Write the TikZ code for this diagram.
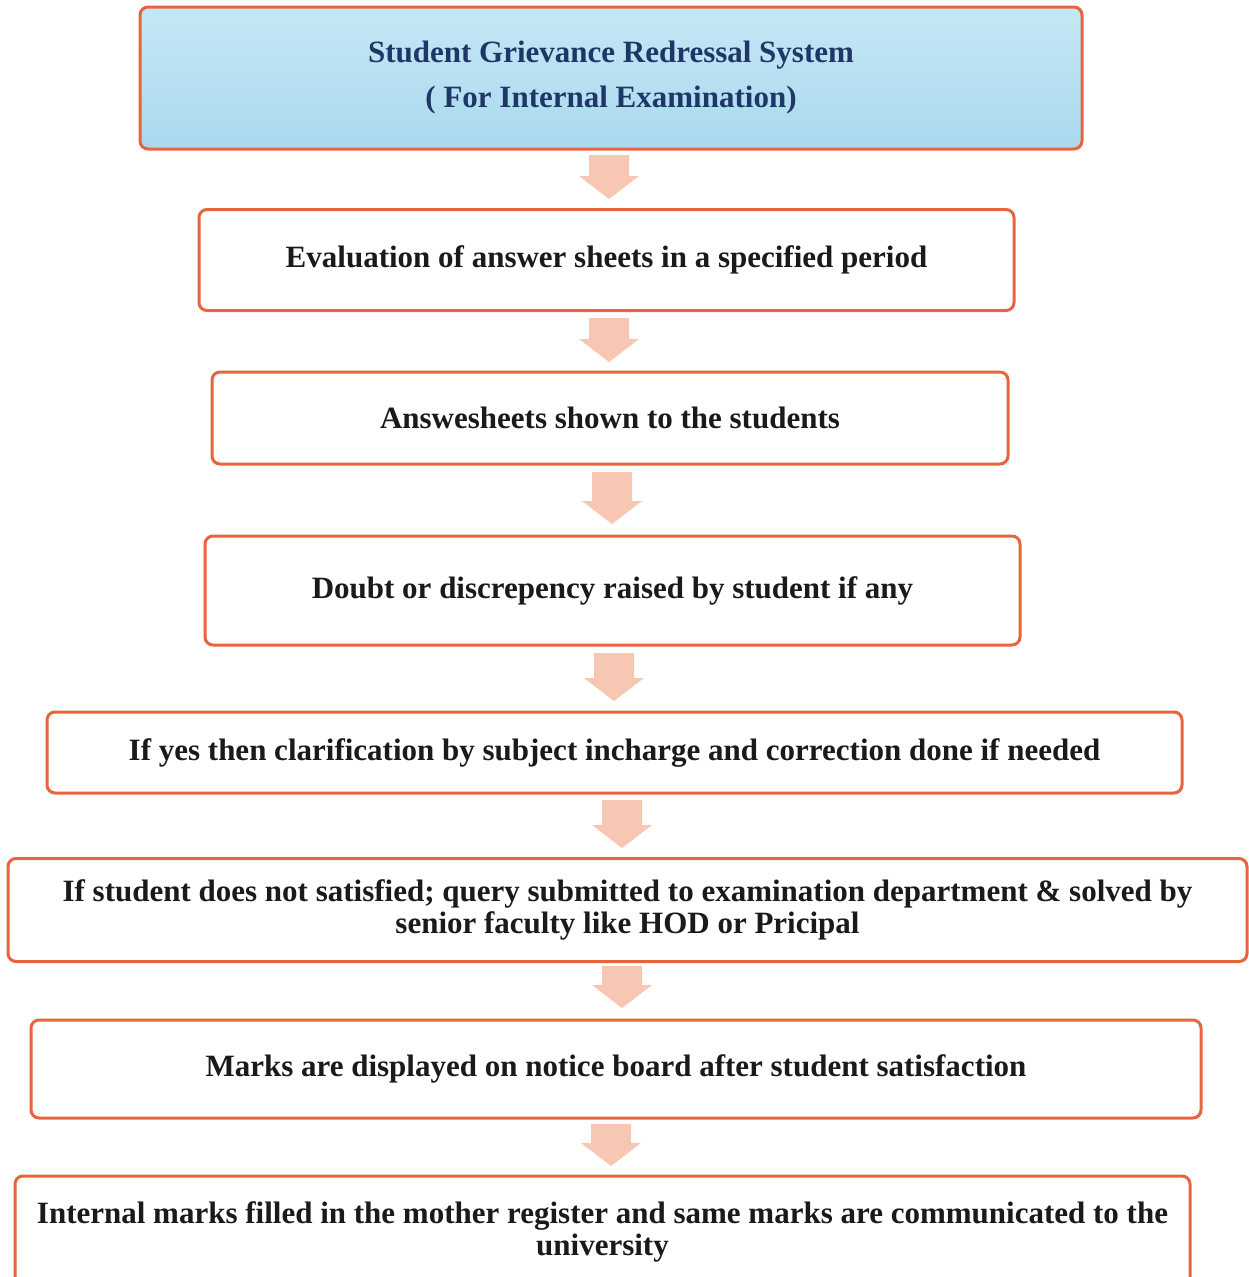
\documentclass[tikz,border=0pt]{standalone}
\usepackage{fontspec}
\setmainfont{Liberation Serif}
\definecolor{bord}{HTML}{E8643E}
\definecolor{arrfill}{HTML}{F7C7B3}
\definecolor{titletxt}{HTML}{1F3766}
\definecolor{tbluetop}{HTML}{C6E7F5}
\definecolor{tbluebot}{HTML}{A9D9EF}
\definecolor{txt}{HTML}{1A1A1A}
\tikzset{
  stepbox/.style={draw=bord, line width=3pt, rounded corners=8pt, fill=white,
    inner sep=0pt, align=center, text=txt,
    font=\fontsize{31}{32}\selectfont\bfseries},
  titlebox/.style={stepbox, top color=tbluetop, bottom color=tbluebot, text=titletxt,
    font=\fontsize{31}{45}\selectfont\bfseries},
}
\newcommand\blockarr[3]{% x, ytop, ybot
  \fill[arrfill] (#1-20,#2) -- (#1+20,#2) -- (#1+20,#3-23) -- (#1+30,#3-23)
    -- (#1,#3) -- (#1-30,#3-23) -- (#1-20,#3-23) -- cycle;}
\begin{document}
\begin{tikzpicture}[x=1pt,y=-1pt]
\clip (0,0) rectangle (1249,1277);
\fill[white] (0,0) rectangle (1249,1277);
\node[titlebox, minimum width=942pt, minimum height=142pt] (b1) at (611,78)
  {Student Grievance Redressal System\\ ( For Internal Examination)};
\node[stepbox, minimum width=815pt, minimum height=101pt] (b2) at (606.5,260)
  {Evaluation of answer sheets in a specified period};
\node[stepbox, minimum width=796pt, minimum height=92pt] (b3) at (610,418)
  {Answesheets shown to the students};
\node[stepbox, minimum width=815pt, minimum height=109pt] (b4) at (612.5,590.5)
  {Doubt or discrepency raised by student if any};
\node[stepbox, minimum width=1135pt, minimum height=81pt] (b5) at (614.5,752.5)
  {If yes then clarification by subject incharge and correction done if needed};
\node[stepbox, minimum width=1239pt, minimum height=103pt] (b6) at (627.5,910)
  {If student does not satisfied; query submitted to examination department \& solved by\\ senior faculty like HOD or Pricipal};
\node[stepbox, minimum width=1170pt, minimum height=98pt] (b7) at (616,1069)
  {Marks are displayed on notice board after student satisfaction};
\node[stepbox, minimum width=1175pt, minimum height=112pt] (b8) at (602.5,1232)
  {Internal marks filled in the mother register and same marks are communicated to the\\ university};
\blockarr{609}{155}{199}
\blockarr{609}{318}{362}
\blockarr{612}{472}{524}
\blockarr{614}{653}{701}
\blockarr{622}{800}{848}
\blockarr{622}{966}{1008}
\blockarr{611}{1124}{1166}
\end{tikzpicture}
\end{document}
